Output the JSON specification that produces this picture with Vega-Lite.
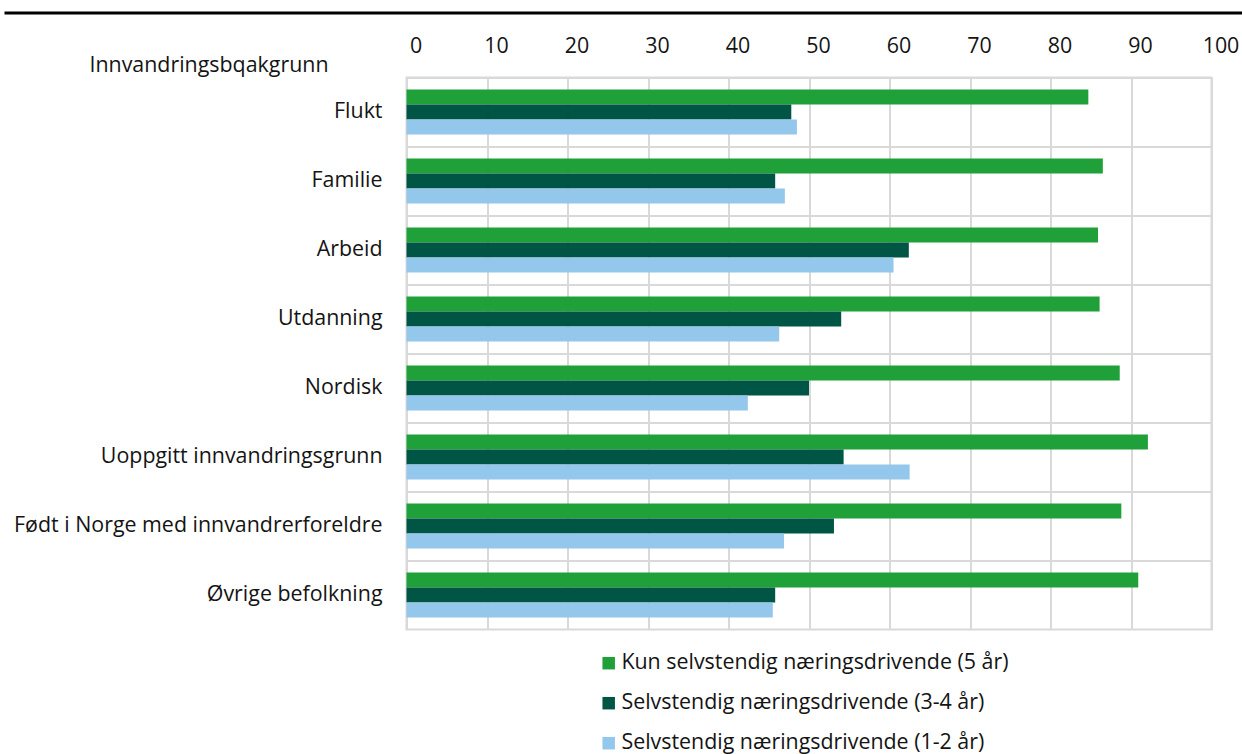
{
  "$schema": "https://vega.github.io/schema/vega-lite/v6.json",
  "autosize": "none",
  "width": 805,
  "height": 552,
  "padding": {"left": 406.5, "top": 77.5, "right": 30.5, "bottom": 124.5},
  "background": "white",
  "config": {
    "font": "Open Sans",
    "view": {"stroke": "#d9d9d9", "strokeWidth": 2},
    "axis": {"labelFont": "Open Sans", "labelColor": "#141414", "titleFont": "Open Sans", "titleColor": "#141414", "titleFontWeight": "normal"},
    "legend": {"labelFont": "Open Sans", "labelColor": "#141414"}
  },
  "data": {
    "values": [
      {"gruppe": "Flukt", "serie": "Kun selvstendig næringsdrivende (5 år)", "verdi": 84.7},
      {"gruppe": "Flukt", "serie": "Selvstendig næringsdrivende (3-4 år)", "verdi": 47.8},
      {"gruppe": "Flukt", "serie": "Selvstendig næringsdrivende (1-2 år)", "verdi": 48.5},
      {"gruppe": "Familie", "serie": "Kun selvstendig næringsdrivende (5 år)", "verdi": 86.5},
      {"gruppe": "Familie", "serie": "Selvstendig næringsdrivende (3-4 år)", "verdi": 45.8},
      {"gruppe": "Familie", "serie": "Selvstendig næringsdrivende (1-2 år)", "verdi": 47.0},
      {"gruppe": "Arbeid", "serie": "Kun selvstendig næringsdrivende (5 år)", "verdi": 85.9},
      {"gruppe": "Arbeid", "serie": "Selvstendig næringsdrivende (3-4 år)", "verdi": 62.4},
      {"gruppe": "Arbeid", "serie": "Selvstendig næringsdrivende (1-2 år)", "verdi": 60.5},
      {"gruppe": "Utdanning", "serie": "Kun selvstendig næringsdrivende (5 år)", "verdi": 86.1},
      {"gruppe": "Utdanning", "serie": "Selvstendig næringsdrivende (3-4 år)", "verdi": 54.0},
      {"gruppe": "Utdanning", "serie": "Selvstendig næringsdrivende (1-2 år)", "verdi": 46.3},
      {"gruppe": "Nordisk", "serie": "Kun selvstendig næringsdrivende (5 år)", "verdi": 88.6},
      {"gruppe": "Nordisk", "serie": "Selvstendig næringsdrivende (3-4 år)", "verdi": 50.0},
      {"gruppe": "Nordisk", "serie": "Selvstendig næringsdrivende (1-2 år)", "verdi": 42.4},
      {"gruppe": "Uoppgitt innvandringsgrunn", "serie": "Kun selvstendig næringsdrivende (5 år)", "verdi": 92.1},
      {"gruppe": "Uoppgitt innvandringsgrunn", "serie": "Selvstendig næringsdrivende (3-4 år)", "verdi": 54.3},
      {"gruppe": "Uoppgitt innvandringsgrunn", "serie": "Selvstendig næringsdrivende (1-2 år)", "verdi": 62.5},
      {"gruppe": "Født i Norge med innvandrerforeldre", "serie": "Kun selvstendig næringsdrivende (5 år)", "verdi": 88.8},
      {"gruppe": "Født i Norge med innvandrerforeldre", "serie": "Selvstendig næringsdrivende (3-4 år)", "verdi": 53.1},
      {"gruppe": "Født i Norge med innvandrerforeldre", "serie": "Selvstendig næringsdrivende (1-2 år)", "verdi": 46.9},
      {"gruppe": "Øvrige befolkning", "serie": "Kun selvstendig næringsdrivende (5 år)", "verdi": 90.9},
      {"gruppe": "Øvrige befolkning", "serie": "Selvstendig næringsdrivende (3-4 år)", "verdi": 45.8},
      {"gruppe": "Øvrige befolkning", "serie": "Selvstendig næringsdrivende (1-2 år)", "verdi": 45.5}
    ]
  },
  "layer": [
    {
      "mark": {"type": "bar"},
      "encoding": {
        "x": {
          "field": "verdi", "type": "quantitative",
          "scale": {"domain": [0, 100], "nice": false, "zero": true},
          "axis": {
            "orient": "top", "title": null, "values": [0, 10, 20, 30, 40, 50, 60, 70, 80, 90, 100],
            "domain": false, "ticks": false, "tickSize": 0,
            "grid": true, "gridColor": "#d9d9d9", "gridWidth": 2,
            "labelFontSize": 21.4, "labelOffset": 9, "labelPadding": 24.8, "labelBaseline": "alphabetic",
            "labelFlush": false, "labelOverlap": false
          }
        },
        "y": {
          "field": "gruppe", "type": "nominal",
          "sort": ["Flukt", "Familie", "Arbeid", "Utdanning", "Nordisk", "Uoppgitt innvandringsgrunn", "Født i Norge med innvandrerforeldre", "Øvrige befolkning"],
          "scale": {"paddingInner": 0, "paddingOuter": 0},
          "axis": {
            "title": "Innvandringsbqakgrunn", "titleAngle": 0, "titleFontSize": 21.4,
            "titleAlign": "center", "titleBaseline": "alphabetic", "titleX": -198, "titleY": -5.8,
            "domain": false, "ticks": false, "tickSize": 0,
            "grid": true, "bandPosition": 0, "gridColor": "#d9d9d9", "gridWidth": 2,
            "labelFontSize": 21.4, "labelPadding": 24.5, "labelLimit": 400
          }
        },
        "yOffset": {
          "field": "serie", "type": "nominal",
          "sort": ["Kun selvstendig næringsdrivende (5 år)", "Selvstendig næringsdrivende (3-4 år)", "Selvstendig næringsdrivende (1-2 år)"],
          "scale": {"paddingInner": 0, "paddingOuter": 0.8}
        },
        "color": {
          "field": "serie", "type": "nominal",
          "scale": {
            "domain": ["Kun selvstendig næringsdrivende (5 år)", "Selvstendig næringsdrivende (3-4 år)", "Selvstendig næringsdrivende (1-2 år)"],
            "range": ["#20a038", "#005544", "#94c7ec"]
          },
          "legend": {
            "title": null, "orient": "none", "legendX": 191.5, "legendY": 575,
            "direction": "vertical", "padding": 0,
            "symbolType": "square", "symbolSize": 156, "symbolStrokeWidth": 0,
            "labelFontSize": 21.4, "labelOffset": 2, "rowPadding": 17, "labelLimit": 600
          }
        }
      }
    },
    {
      "data": {"values": [{}]},
      "mark": {"type": "rule", "opacity": 0},
      "encoding": {
        "x": {
          "datum": 0, "type": "quantitative",
          "scale": {"domain": [0, 1], "range": [-402.5, 835.5], "nice": false},
          "axis": {
            "orient": "top", "offset": 65, "title": null, "labels": false, "ticks": false, "grid": false,
            "domain": true, "domainColor": "#000000", "domainWidth": 3
          }
        }
      }
    }
  ],
  "resolve": {"scale": {"x": "independent"}, "axis": {"x": "independent"}}
}
